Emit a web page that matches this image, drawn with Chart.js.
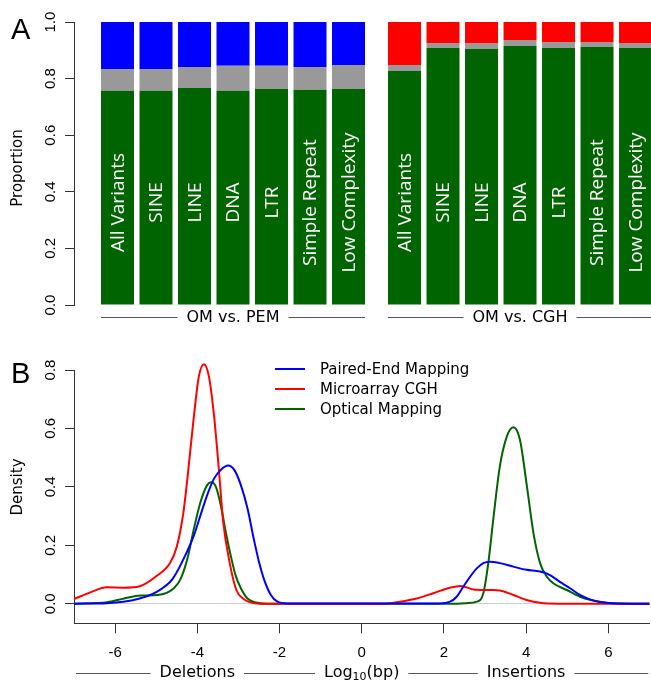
<!DOCTYPE html>
<html lang="en">
<head>
<meta charset="UTF-8">
<title>OM concordance and SV size densities</title>
<script src="https://cdn.jsdelivr.net/npm/chart.js"></script>
<style>
    html, body { margin: 0; padding: 0; background: #fff; }
    .figure { position: relative; width: 651px; height: 684px; }
    #panelA { position: absolute; left: 0; top: 0; }
    #panelB { position: absolute; left: 0; top: 340px; }
</style>
</head>
<body>
<div class="figure">
    <canvas id="panelA" width="651" height="340"></canvas>
    <canvas id="panelB" width="651" height="344"></canvas>
</div>
<script>
// ---- panel A: proportions per repeat class ----
const categories = ['All Variants', 'SINE', 'LINE', 'DNA', 'LTR', 'Simple Repeat', 'Low Complexity'];
const groupNames = ['OM vs. PEM', 'OM vs. CGH'];
const pemConfirmed = [0.757, 0.757, 0.767, 0.757, 0.763, 0.761, 0.763];
const pemUnclear   = [0.077, 0.077, 0.074, 0.088, 0.082, 0.080, 0.085];
const pemMissed    = [0.166, 0.166, 0.159, 0.155, 0.155, 0.159, 0.152];
const cghConfirmed = [0.827, 0.908, 0.905, 0.915, 0.908, 0.912, 0.908];
const cghUnclear   = [0.021, 0.018, 0.021, 0.021, 0.021, 0.017, 0.018];
const cghMissed    = [0.152, 0.074, 0.074, 0.064, 0.071, 0.071, 0.074];
const propTicks = [0, 0.2, 0.4, 0.6, 0.8, 1.0];

// ---- panel B: density of log10 size (negative = deletions) ----
const pemX = [-7, -6.2, -5.8, -5.4, -5.0, -4.6, -4.25, -4.08, -3.92, -3.76, -3.59, -3.43, -3.25, -3.1, -2.94, -2.78, -2.62, -2.5, -2.37, -2.21, -2.05, -1.8,
              1.9, 2.15, 2.31, 2.47, 2.64, 2.8, 2.96, 3.12, 3.36, 3.69, 4.01, 4.34, 4.58, 4.82, 5.07, 5.31, 5.55, 5.8, 6.12, 7];
const pemY = [0, 0.002, 0.007, 0.018, 0.04, 0.085, 0.178, 0.235, 0.304, 0.372, 0.429, 0.458, 0.473, 0.458, 0.406, 0.327, 0.218, 0.144, 0.081, 0.030, 0.007, 0.001,
              0.001, 0.007, 0.024, 0.058, 0.093, 0.121, 0.139, 0.144, 0.139, 0.127, 0.116, 0.110, 0.098, 0.075, 0.053, 0.030, 0.015, 0.006, 0.002, 0];
const cghX = [-7, -6.6, -6.2, -5.8, -5.4, -5.0, -4.66, -4.5, -4.34, -4.24, -4.08, -3.96, -3.84, -3.72, -3.59, -3.47, -3.37, -3.21, -3.05, -2.89, -2.6, -2.2,
              0.5, 0.93, 1.34, 1.74, 2.15, 2.4, 2.72, 3.12, 3.36, 3.69, 4.01, 4.34, 4.8, 7];
const cghY = [0.016, 0.039, 0.056, 0.055, 0.06, 0.094, 0.14, 0.195, 0.31, 0.43, 0.646, 0.78, 0.82, 0.78, 0.64, 0.45, 0.28, 0.138, 0.047, 0.018, 0.002, 0,
              0, 0.007, 0.018, 0.036, 0.055, 0.061, 0.049, 0.047, 0.045, 0.03, 0.013, 0.003, 0, 0];
const omX = [-7, -6.19, -5.78, -5.38, -4.97, -4.57, -4.40, -4.24, -4.08, -3.92, -3.76, -3.66, -3.55, -3.43, -3.31, -3.19, -3.07, -2.94, -2.78, -2.6, -2.3,
             2.15, 2.55, 2.80, 2.96, 3.08, 3.20, 3.36, 3.53, 3.69, 3.85, 4.01, 4.18, 4.34, 4.50, 4.66, 4.99, 5.31, 5.63, 6.04, 7];
const omY = [0, 0.005, 0.018, 0.028, 0.030, 0.053, 0.087, 0.155, 0.258, 0.349, 0.406, 0.416, 0.401, 0.338, 0.247, 0.167, 0.098, 0.053, 0.018, 0.005, 0,
             0, 0.002, 0.007, 0.036, 0.139, 0.287, 0.469, 0.572, 0.604, 0.561, 0.412, 0.241, 0.139, 0.093, 0.070, 0.047, 0.024, 0.011, 0.002, 0];
const sizeTicks = [-6, -4, -2, 0, 2, 4, 6];
const densityTicks = [0, 0.2, 0.4, 0.6, 0.8];

const GREEN = '#006400', GRAY = '#999999', BLUE = '#0000ff', RED = '#ff0000';
const AXIS = '#333333';

Chart.defaults.font.family = '"Liberation Sans", Arial, sans-serif';
Chart.defaults.font.size = 15;
Chart.defaults.color = '#000';

// second group sits a bit further right than a plain category step
const groupStart = 7.455;
const barX = categories.map((c, i) => i).concat(categories.map((c, i) => i + groupStart));
const barNames = categories.concat(categories);
const confirmed = pemConfirmed.concat(cghConfirmed);
const unclear = pemUnclear.concat(cghUnclear);
const missed = pemMissed.concat(cghMissed);
const missedColors = categories.map(() => BLUE).concat(categories.map(() => RED));

const toPoints = (xs, ys) => xs.map((x, i) => ({x: x, y: ys[i]}));

function rotatedText(ctx, text, x, y) {
    ctx.save();
    ctx.translate(x, y);
    ctx.rotate(-Math.PI / 2);
    ctx.fillText(text, 0, 0);
    ctx.restore();
}

function labelWithRules(ctx, items, y, left, right) {
    // horizontal rule broken by centred labels
    ctx.save();
    ctx.strokeStyle = '#555';
    ctx.lineWidth = 1;
    ctx.beginPath();
    ctx.moveTo(left, y + 0.5);
    ctx.lineTo(right, y + 0.5);
    ctx.stroke();
    items.forEach(it => {
        ctx.fillStyle = '#fff';
        ctx.fillRect(it.cx - it.w / 2 - 9, y - 10, it.w + 18, 20);
        ctx.fillStyle = '#000';
        it.draw(it.cx - it.w / 2, y);
    });
    ctx.restore();
}

const panelALabels = {
    id: 'panelALabels',
    afterDatasetsDraw(chart) {
        const {ctx, scales: {x, y}} = chart;
        ctx.save();
        // category names inside the bars
        ctx.fillStyle = '#fff';
        ctx.font = '19px "Open Sans", sans-serif';
        ctx.textAlign = 'center';
        ctx.textBaseline = 'middle';
        barX.forEach((v, i) => rotatedText(ctx, barNames[i], x.getPixelForValue(v) + 1, y.getPixelForValue(0.362)));

        // group captions under the bars
        const bars = chart.getDatasetMeta(0).data;
        ctx.font = '16px "DejaVu Sans", sans-serif';
        ctx.textAlign = 'left';
        ctx.textBaseline = 'middle';
        groupNames.forEach((name, g) => {
            const first = bars[g * 7], last = bars[g * 7 + 6];
            const left = first.x - first.width / 2, right = last.x + last.width / 2;
            const w = ctx.measureText(name).width;
            labelWithRules(ctx, [{cx: (left + right) / 2, w: w, draw: (tx, ty) => ctx.fillText(name, tx, ty + 1)}],
                y.bottom + 12, left, right);
        });

        // axis title and panel letter
        ctx.fillStyle = '#000';
        ctx.textAlign = 'center';
        ctx.font = '15px "DejaVu Sans", sans-serif';
        rotatedText(ctx, 'Proportion', 18, 168);
        ctx.textAlign = 'left';
        ctx.textBaseline = 'alphabetic';
        ctx.font = '29px "Liberation Sans", Arial, sans-serif';
        ctx.fillText('A', 11, 39);
        ctx.restore();
    }
};

new Chart(document.getElementById('panelA'), {
    type: 'bar',
    data: {
        datasets: [
            {label: 'Confirmed', data: toPoints(barX, confirmed), backgroundColor: GREEN},
            {label: 'Ambiguous', data: toPoints(barX, unclear), backgroundColor: GRAY},
            {label: 'Not confirmed', data: toPoints(barX, missed), backgroundColor: missedColors}
        ]
    },
    options: {
        responsive: false,
        animation: false,
        layout: {padding: {top: 22, bottom: 35, left: 0, right: 0}},
        plugins: {legend: {display: false}, tooltip: {enabled: false}},
        datasets: {bar: {barPercentage: 0.857, categoryPercentage: 1, borderWidth: 0, clip: false}},
        scales: {
            x: {
                type: 'linear', stacked: true, display: false, offset: false,
                min: -1.13, max: 13.857,
                afterBuildTicks: s => { s.ticks = barX.map(v => ({value: v})); }
            },
            y: {
                stacked: true, min: 0, max: 1,
                afterBuildTicks: s => { s.ticks = propTicks.map(v => ({value: v})); },
                afterFit: s => { s.width = 74; },
                ticks: {minRotation: 90, maxRotation: 90, crossAlign: 'center', padding: 4,
                        callback: v => v.toFixed(1)},
                grid: {drawOnChartArea: false, tickLength: 9, tickColor: AXIS},
                border: {color: AXIS}
            }
        }
    },
    plugins: [panelALabels]
});

const panelBLabels = {
    id: 'panelBLabels',
    afterDraw(chart) {
        const {ctx, scales: {x}, chartArea} = chart;
        ctx.save();
        // legend
        ctx.font = '15px "DejaVu Sans", sans-serif';
        ctx.textAlign = 'left';
        ctx.textBaseline = 'middle';
        chart.data.datasets.forEach((ds, i) => {
            const ly = 29 + i * 20;
            ctx.strokeStyle = ds.borderColor;
            ctx.lineWidth = 2;
            ctx.beginPath();
            ctx.moveTo(275, ly);
            ctx.lineTo(305, ly);
            ctx.stroke();
            ctx.fillStyle = '#000';
            ctx.fillText(ds.label, 320, ly + 1);
        });

        // axis caption: Deletions — Log10(bp) — Insertions
        const big = '16px "DejaVu Sans", sans-serif', small = '11px "DejaVu Sans", sans-serif';
        ctx.font = big;
        const plain = txt => ({w: ctx.measureText(txt).width, draw: (tx, ty) => { ctx.font = big; ctx.fillText(txt, tx, ty); }});
        ctx.font = big;
        const wLog = ctx.measureText('Log').width, wBp = ctx.measureText('(bp)').width;
        ctx.font = small;
        const wSub = ctx.measureText('10').width;
        ctx.font = big;
        const logItem = {
            w: wLog + wSub + wBp,
            draw: (tx, ty) => {
                ctx.font = big; ctx.fillText('Log', tx, ty);
                ctx.font = small; ctx.fillText('10', tx + wLog, ty + 4);
                ctx.font = big; ctx.fillText('(bp)', tx + wLog + wSub, ty);
            }
        };
        const del = plain('Deletions'), ins = plain('Insertions');
        del.cx = x.getPixelForValue(-4);
        logItem.cx = x.getPixelForValue(0);
        ins.cx = x.getPixelForValue(4);
        ctx.textBaseline = 'middle';
        labelWithRules(ctx, [del, logItem, ins], 333, chartArea.left + 2, chartArea.right - 1);

        ctx.fillStyle = '#000';
        ctx.font = '15px "DejaVu Sans", sans-serif';
        ctx.textAlign = 'center';
        rotatedText(ctx, 'Density', 18, 147);
        ctx.textAlign = 'left';
        ctx.textBaseline = 'alphabetic';
        ctx.font = '29px "Liberation Sans", Arial, sans-serif';
        ctx.fillText('B', 11, 43);
        ctx.restore();
    }
};

new Chart(document.getElementById('panelB'), {
    type: 'line',
    data: {
        datasets: [
            {label: 'Paired-End Mapping', data: toPoints(pemX, pemY), borderColor: BLUE},
            {label: 'Microarray CGH', data: toPoints(cghX, cghY), borderColor: RED},
            {label: 'Optical Mapping', data: toPoints(omX, omY), borderColor: GREEN}
        ]
    },
    options: {
        responsive: false,
        animation: false,
        layout: {padding: {top: 30, bottom: 0, left: 0, right: 1.6}},
        plugins: {legend: {display: false}, tooltip: {enabled: false}},
        datasets: {line: {borderWidth: 2, pointRadius: 0, fill: false, cubicInterpolationMode: 'monotone', clip: false}},
        scales: {
            x: {
                type: 'linear', min: -7, max: 7,
                afterBuildTicks: s => { s.ticks = sizeTicks.map(v => ({value: v})); },
                afterFit: s => { s.height = 60.7; },
                ticks: {padding: 11, callback: v => String(v)},
                grid: {drawOnChartArea: false, tickLength: 10, tickColor: AXIS},
                border: {color: AXIS}
            },
            y: {
                min: -0.067, max: 0.8,
                afterBuildTicks: s => { s.ticks = densityTicks.map(v => ({value: v})); },
                afterFit: s => { s.width = 74; },
                ticks: {minRotation: 90, maxRotation: 90, crossAlign: 'center', padding: 4,
                        callback: v => v.toFixed(1)},
                grid: {
                    color: c => (c.tick && c.tick.value === 0) ? '#cfcfcf' : 'rgba(0,0,0,0)',
                    tickLength: 9, tickColor: AXIS
                },
                border: {color: AXIS}
            }
        }
    },
    plugins: [panelBLabels]
});
</script>
</body>
</html>
